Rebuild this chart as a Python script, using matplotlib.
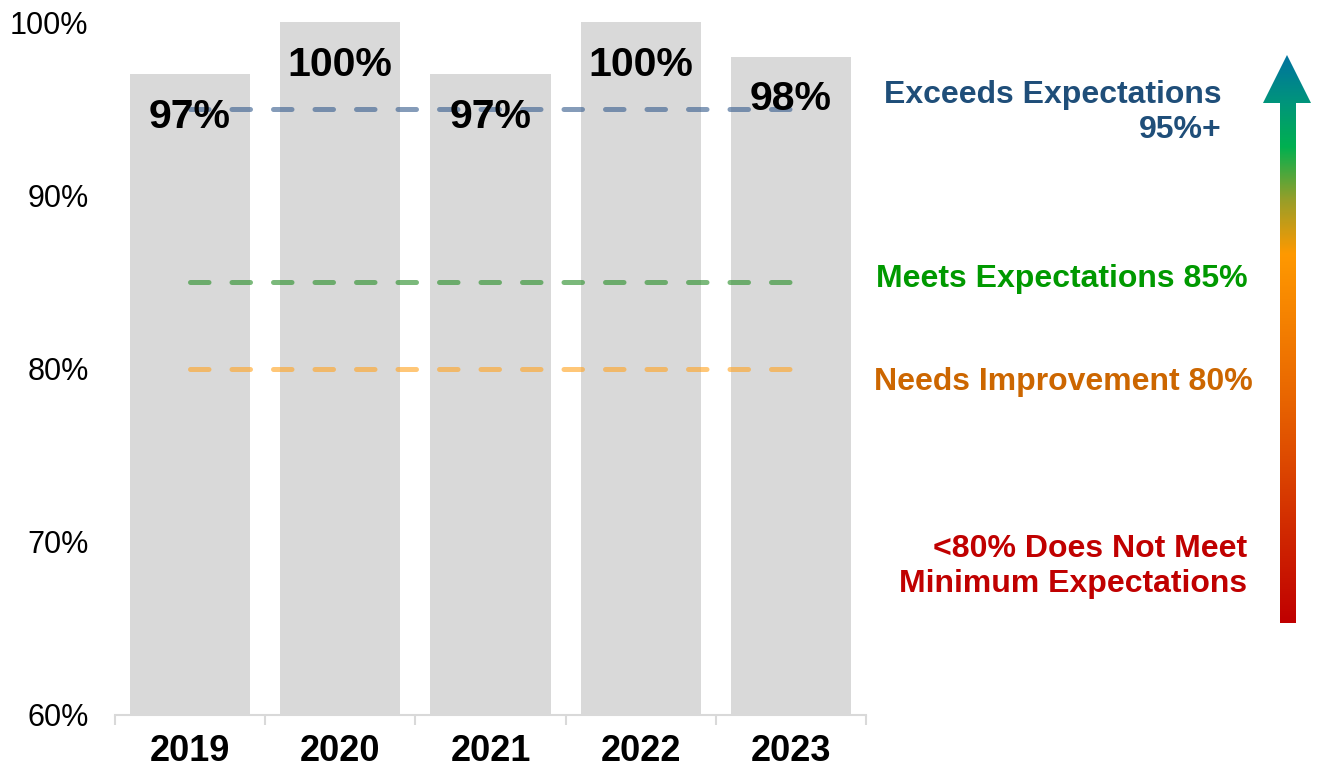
import numpy as np
import matplotlib
matplotlib.use("Agg")
import matplotlib.pyplot as plt
from matplotlib.patches import Polygon
from matplotlib.colors import LinearSegmentedColormap

plt.rcParams['font.family'] = ['Liberation Sans', 'DejaVu Sans']

# data
years = ['2019', '2020', '2021', '2022', '2023']
scores = [97, 100, 97, 100, 98]
bar_labels = ['97%', '100%', '97%', '100%', '98%']
y_ticks = [60, 70, 80, 90, 100]
y_tick_labels = ['60%', '70%', '80%', '90%', '100%']

# target lines (value, colour)
targets = [95, 85, 80]
target_colors = ['#3A5F8F', '#2A8F2A', '#FFA526']

W, H = 1319, 767
fig = plt.figure(figsize=(W / 100, H / 100), dpi=100)
ax = fig.add_axes([115 / W, 1 - 715 / H, (866 - 115) / W, (715 - 22) / H])

x = np.arange(len(years))
ax.bar(x, [s - 60 for s in scores], bottom=60, width=0.8, color='#D9D9D9', zorder=1)

# dashed target lines
for val, col in zip(targets, target_colors):
    ax.plot([x[0], x[-1]], [val, val], color=col, alpha=0.62, lw=3.6,
            linestyle=(0, (3.7, 4.6)), dash_capstyle='round', zorder=2)

# bar value labels
for xi, s, lab in zip(x, scores, bar_labels):
    ax.text(xi, s - 3.1, lab, ha='center', va='baseline', fontsize=29.5,
            fontweight='bold', color='black', zorder=3)

ax.set_xlim(-0.5, len(years) - 0.5)
ax.set_ylim(60, 100)
ax.set_yticks(y_ticks)
ax.set_yticklabels(y_tick_labels, fontsize=22)
ax.set_xticks(x)
ax.set_xticklabels(years, fontsize=26, fontweight='bold')
ax.set_xticks(np.arange(-0.5, len(years)), minor=True)
ax.tick_params(axis='y', length=0, pad=19)
ax.tick_params(axis='x', which='major', length=0, pad=14)
ax.tick_params(axis='x', which='minor', length=7, width=1.5, color='#D9D9D9')
for side in ['top', 'right', 'left']:
    ax.spines[side].set_visible(False)
ax.spines['bottom'].set_color('#D9D9D9')
ax.spines['bottom'].set_linewidth(1.5)

# text on the right
def rtext(xp, yp, s, col):
    fig.text(xp / W, 1 - yp / H, s, ha='right', va='baseline', fontsize=23,
             fontweight='bold', color=col)

rtext(1222, 103, 'Exceeds Expectations', '#1F4E79')
rtext(1222, 138, '95%+', '#1F4E79')
rtext(1248, 287, 'Meets Expectations 85%', '#009900')
rtext(1253, 390, 'Needs Improvement 80%', '#CC6600')
rtext(1247, 557, '<80% Does Not Meet', '#C00000')
rtext(1247, 592, 'Minimum Expectations', '#C00000')

# gradient arrow
ov = fig.add_axes([0, 0, 1, 1], zorder=5)
ov.set_xlim(0, W)
ov.set_ylim(H, 0)
ov.axis('off')
ov.patch.set_alpha(0)
cmap = LinearSegmentedColormap.from_list('arrow', [
    (0.0, '#C00000'), (0.39, '#E86400'), (0.65, '#FF9900'),
    (0.744, '#9A9E28'), (0.84, '#00B050'), (0.915, '#00967A'), (1.0, '#00739F')])
grad = np.linspace(1, 0, 256).reshape(-1, 1)
arrow = Polygon([(1287, 55), (1311, 103), (1296, 103), (1296, 623),
                 (1280, 623), (1280, 103), (1263, 103)], closed=True,
                facecolor='none', edgecolor='none')
ov.add_patch(arrow)
img = ov.imshow(grad, cmap=cmap, aspect='auto', extent=[1263, 1311, 623, 55],
                interpolation='bilinear')
img.set_clip_path(arrow)
ov.set_xlim(0, W)
ov.set_ylim(H, 0)

fig.savefig('out.png', dpi=100)
